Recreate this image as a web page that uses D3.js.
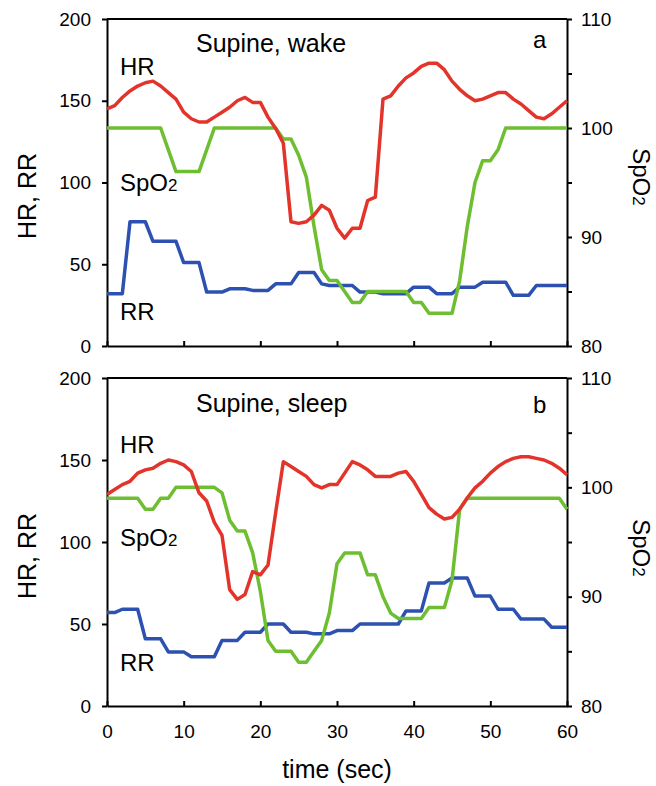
<!DOCTYPE html>
<html>
<head>
<title>HR, RR and SpO2</title>
<script src="https://d3js.org/d3.v7.min.js"></script>
<style>
  body { margin: 0; background: #fff; }
  text { font-family: "Liberation Sans", Arial, sans-serif; fill: #000; }
</style>
</head>
<body>
<script>
// time axis, one sample per second
var seconds = d3.range(0, 61);

// panel a: supine, wake
var hrWake = [145,147,152,156,159,161,162,159,155,151,143,139,137,137,140,143,146,150,152,149,
              149,140,133,124,76,75,76,80,86,83,72,66,72,72,89,91,151,153,159,164,
              167,171,173,173,169,162,157,153,150,151,153,155,155,151,148,144,140,139,142,146,150];
var rrWake = [32,32,32,76,76,76,64,64,64,64,51,51,51,33,33,33,35,35,35,34,
              34,34,38,38,38,45,45,45,38,37,37,37,37,33,33,33,32,32,32,32,
              36,36,36,32,32,32,36,36,36,39,39,39,39,31,31,31,37,37,37,37,37];
var spo2Wake = [100,100,100,100,100,100,100,100,98,96,96,96,96,98,100,100,100,100,100,100,
                100,100,100,99,99,97.5,95.5,91,87,86,86,85,84,84,85,85,85,85,85,85,
                84,84,83,83,83,83,86,91,95,97,97,98,100,100,100,100,100,100,100,100,100];

// panel b: supine, sleep
var hrSleep = [129,132,135,137,142,144,145,148,150,149,147,143,130,125,112,104,71,65,68,82,
               80,86,118,149,146,143,140,135,133,135,135,142,149,147,144,140,140,140,142,143,
               137,129,121,117,114,115,120,127,133,137,142,146,149,151,152,152,151,150,148,145,141];
var rrSleep = [57,57,59,59,59,41,41,41,33,33,33,30,30,30,30,40,40,40,45,45,
               45,50,50,50,45,45,45,44,44,44,46,46,46,50,50,50,50,50,50,58,
               58,58,75,75,75,78,78,78,67,67,67,59,59,59,53,53,53,53,48,48,48];
var spo2Sleep = [99,99,99,99,99,98,98,99,99,100,100,100,100,100,100,99.5,97,96,96,94,
                 90.5,86,85,85,85,84,84,85,86,88.5,93,94,94,94,92,92,90,88.5,88,88,
                 88,88,89,89,89,91.5,98,99,99,99,99,99,99,99,99,99,99,99,99,99,98];

var hrTicks = [0, 50, 100, 150, 200];
var spo2Ticks = [80, 85, 90, 95, 100, 105, 110];
var timeTicks = [0, 10, 20, 30, 40, 50, 60];

var red = "#e3342b", green = "#6dbe30", blue = "#2c51b0";

var svg = d3.select("body").append("svg").attr("width", 656).attr("height", 786);

var x = d3.scaleLinear().domain([0, 60]).range([107, 567]);

var panels = [
  { top: 19, bottom: 346, hr: hrWake, rr: rrWake, spo2: spo2Wake, title: "Supine, wake", letter: "a",
    lab: { title: 33, letter: 29, hr: 56, spo2: 172, rr: 301, left: 177, right: 158 }, xlabels: false },
  { top: 378, bottom: 706, hr: hrSleep, rr: rrSleep, spo2: spo2Sleep, title: "Supine, sleep", letter: "b",
    lab: { title: 34, letter: 35, hr: 75, spo2: 168, rr: 293, left: 178, right: 170 }, xlabels: true }
];

panels.forEach(function(p) {
  var y = d3.scaleLinear().domain([0, 200]).range([p.bottom, p.top]);
  var ys = d3.scaleLinear().domain([80, 110]).range([p.bottom, p.top]);
  var g = svg.append("g");

  // frame top
  g.append("line").attr("x1", x(0)).attr("x2", x(60)).attr("y1", p.top).attr("y2", p.top)
    .attr("stroke", "#000").attr("stroke-width", 2);

  var ax = g.append("g").attr("transform", "translate(" + x(0) + ",0)")
    .call(d3.axisLeft(y).tickValues(hrTicks).tickSize(5).tickSizeOuter(0).tickPadding(11));
  var ar = g.append("g").attr("transform", "translate(" + x(60) + ",0)")
    .call(d3.axisRight(ys).tickValues(spo2Ticks).tickSize(5).tickSizeOuter(0).tickPadding(9)
      .tickFormat(function(d) { return d % 10 === 0 ? d : ""; }));
  var ab = g.append("g").attr("transform", "translate(0," + p.bottom + ")")
    .call(d3.axisBottom(x).tickValues(timeTicks).tickSize(-5).tickSizeOuter(0).tickPadding(19)
      .tickFormat(function(d) { return p.xlabels ? d : ""; }));

  [ax, ar, ab].forEach(function(a) {
    a.selectAll("path, line").attr("stroke", "#000").attr("stroke-width", 2);
    a.selectAll("text").style("font-size", "19px").style("font-family", "Liberation Sans, Arial, sans-serif");
  });

  // series
  var line = function(sc) {
    return d3.line().x(function(d, i) { return x(seconds[i]); }).y(function(d) { return sc(d); });
  };
  g.append("path").datum(p.rr).attr("d", line(y)).attr("fill", "none").attr("stroke", blue)
    .attr("stroke-width", 3.5).attr("stroke-linejoin", "round");
  g.append("path").datum(p.spo2).attr("d", line(ys)).attr("fill", "none").attr("stroke", green)
    .attr("stroke-width", 3.5).attr("stroke-linejoin", "round");
  g.append("path").datum(p.hr).attr("d", line(y)).attr("fill", "none").attr("stroke", red)
    .attr("stroke-width", 3.5).attr("stroke-linejoin", "round");

  // in-plot labels
  g.append("text").attr("x", 196).attr("y", p.top + p.lab.title).style("font-size", "25px").text(p.title);
  g.append("text").attr("x", 533).attr("y", p.top + p.lab.letter).style("font-size", "24px").text(p.letter);
  g.append("text").attr("x", 120).attr("y", p.top + p.lab.hr).style("font-size", "24px").text("HR");
  var sp = g.append("text").attr("x", 120).attr("y", p.top + p.lab.spo2).style("font-size", "24px");
  sp.append("tspan").text("SpO");
  sp.append("tspan").style("font-size", "17px").text("2");
  g.append("text").attr("x", 120).attr("y", p.top + p.lab.rr).style("font-size", "24px").text("RR");

  // axis titles
  g.append("text").attr("transform", "translate(36," + (p.top + p.lab.left) + ") rotate(-90)")
    .attr("text-anchor", "middle").style("font-size", "25px").text("HR, RR");
  var rt = g.append("text").attr("transform", "translate(633," + (p.top + p.lab.right) + ") rotate(90)")
    .attr("text-anchor", "middle").style("font-size", "24px");
  rt.append("tspan").text("SpO");
  rt.append("tspan").style("font-size", "17px").text("2");
});

svg.append("text").attr("x", x(30)).attr("y", 778).attr("text-anchor", "middle")
  .style("font-size", "25px").text("time (sec)");
</script>
</body>
</html>
